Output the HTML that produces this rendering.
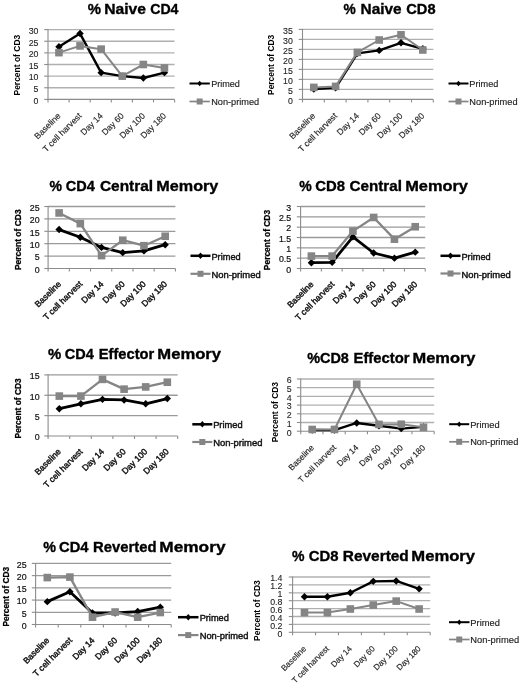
<!DOCTYPE html>
<html><head><meta charset="utf-8"><title>T cell memory subsets</title>
<style>
html,body{margin:0;padding:0;background:#fff;}
body{width:520px;height:686px;overflow:hidden;}
svg{display:block;font-family:"Liberation Sans", sans-serif;filter:blur(0.4px);}
</style></head>
<body>
<svg width="520" height="686" viewBox="0 0 520 686">
<rect width="520" height="686" fill="#fff"/>
<line x1="48.00" y1="87.77" x2="174.60" y2="87.77" stroke="#b0b0b0" stroke-width="1.3"/>
<line x1="48.00" y1="76.13" x2="174.60" y2="76.13" stroke="#b0b0b0" stroke-width="1.3"/>
<line x1="48.00" y1="64.50" x2="174.60" y2="64.50" stroke="#b0b0b0" stroke-width="1.3"/>
<line x1="48.00" y1="52.87" x2="174.60" y2="52.87" stroke="#b0b0b0" stroke-width="1.3"/>
<line x1="48.00" y1="41.23" x2="174.60" y2="41.23" stroke="#b0b0b0" stroke-width="1.3"/>
<line x1="48.00" y1="29.60" x2="174.60" y2="29.60" stroke="#b0b0b0" stroke-width="1.3"/>
<line x1="48.00" y1="29.10" x2="48.00" y2="99.90" stroke="#8c8c8c" stroke-width="1.1"/>
<line x1="47.50" y1="99.40" x2="174.60" y2="99.40" stroke="#8c8c8c" stroke-width="1.1"/>
<line x1="44.20" y1="99.40" x2="48.00" y2="99.40" stroke="#8c8c8c" stroke-width="1.1"/>
<line x1="44.20" y1="87.77" x2="48.00" y2="87.77" stroke="#8c8c8c" stroke-width="1.1"/>
<line x1="44.20" y1="76.13" x2="48.00" y2="76.13" stroke="#8c8c8c" stroke-width="1.1"/>
<line x1="44.20" y1="64.50" x2="48.00" y2="64.50" stroke="#8c8c8c" stroke-width="1.1"/>
<line x1="44.20" y1="52.87" x2="48.00" y2="52.87" stroke="#8c8c8c" stroke-width="1.1"/>
<line x1="44.20" y1="41.23" x2="48.00" y2="41.23" stroke="#8c8c8c" stroke-width="1.1"/>
<line x1="44.20" y1="29.60" x2="48.00" y2="29.60" stroke="#8c8c8c" stroke-width="1.1"/>
<line x1="48.00" y1="99.40" x2="48.00" y2="102.40" stroke="#8c8c8c" stroke-width="1.1"/>
<line x1="69.10" y1="99.40" x2="69.10" y2="102.40" stroke="#8c8c8c" stroke-width="1.1"/>
<line x1="90.20" y1="99.40" x2="90.20" y2="102.40" stroke="#8c8c8c" stroke-width="1.1"/>
<line x1="111.30" y1="99.40" x2="111.30" y2="102.40" stroke="#8c8c8c" stroke-width="1.1"/>
<line x1="132.40" y1="99.40" x2="132.40" y2="102.40" stroke="#8c8c8c" stroke-width="1.1"/>
<line x1="153.50" y1="99.40" x2="153.50" y2="102.40" stroke="#8c8c8c" stroke-width="1.1"/>
<line x1="174.60" y1="99.40" x2="174.60" y2="102.40" stroke="#8c8c8c" stroke-width="1.1"/>
<text x="38.50" y="103.70" font-size="8.8" text-anchor="end" fill="#222" stroke="#222" stroke-width="0.1">0</text>
<text x="38.50" y="92.07" font-size="8.8" text-anchor="end" fill="#222" stroke="#222" stroke-width="0.1">5</text>
<text x="38.50" y="80.43" font-size="8.8" text-anchor="end" fill="#222" stroke="#222" stroke-width="0.1">10</text>
<text x="38.50" y="68.80" font-size="8.8" text-anchor="end" fill="#222" stroke="#222" stroke-width="0.1">15</text>
<text x="38.50" y="57.17" font-size="8.8" text-anchor="end" fill="#222" stroke="#222" stroke-width="0.1">20</text>
<text x="38.50" y="45.53" font-size="8.8" text-anchor="end" fill="#222" stroke="#222" stroke-width="0.1">25</text>
<text x="38.50" y="33.90" font-size="8.8" text-anchor="end" fill="#222" stroke="#222" stroke-width="0.1">30</text>
<text transform="translate(61.15,116.40) rotate(-45)" font-size="8.6" text-anchor="end" fill="#222" stroke="#222" stroke-width="0.15">Baseline</text>
<text transform="translate(82.25,116.40) rotate(-45)" font-size="8.6" text-anchor="end" fill="#222" stroke="#222" stroke-width="0.15">T cell harvest</text>
<text transform="translate(103.35,116.40) rotate(-45)" font-size="8.6" text-anchor="end" fill="#222" stroke="#222" stroke-width="0.15">Day 14</text>
<text transform="translate(124.45,116.40) rotate(-45)" font-size="8.6" text-anchor="end" fill="#222" stroke="#222" stroke-width="0.15">Day 60</text>
<text transform="translate(145.55,116.40) rotate(-45)" font-size="8.6" text-anchor="end" fill="#222" stroke="#222" stroke-width="0.15">Day 100</text>
<text transform="translate(166.65,116.40) rotate(-45)" font-size="8.6" text-anchor="end" fill="#222" stroke="#222" stroke-width="0.15">Day 180</text>
<text x="87.65" y="14.25" font-size="15.0" font-weight="bold" textLength="13.25" lengthAdjust="spacingAndGlyphs" fill="#000" stroke="#000" stroke-width="0.35">%</text>
<text x="104.20" y="14.25" font-size="15.0" font-weight="bold" textLength="41.75" lengthAdjust="spacingAndGlyphs" fill="#000" stroke="#000" stroke-width="0.35">Naive</text>
<text x="150.20" y="14.25" font-size="15.0" font-weight="bold" textLength="28.25" lengthAdjust="spacingAndGlyphs" fill="#000" stroke="#000" stroke-width="0.35">CD4</text>
<text transform="translate(19.77,65.00) rotate(-90)" x="-30.50" font-size="9.0" font-weight="bold" textLength="60.75" lengthAdjust="spacingAndGlyphs" fill="#000">Percent of CD3</text>
<polyline points="58.95,46.82 80.05,33.56 101.15,72.64 122.25,76.13 143.35,77.99 164.45,72.64" fill="none" stroke="#000" stroke-width="2.4" stroke-linejoin="round"/>
<polygon points="58.95,43.12 62.65,46.82 58.95,50.52 55.25,46.82" fill="#000"/>
<polygon points="80.05,29.86 83.75,33.56 80.05,37.26 76.35,33.56" fill="#000"/>
<polygon points="101.15,68.94 104.85,72.64 101.15,76.34 97.45,72.64" fill="#000"/>
<polygon points="122.25,72.43 125.95,76.13 122.25,79.83 118.55,76.13" fill="#000"/>
<polygon points="143.35,74.29 147.05,77.99 143.35,81.69 139.65,77.99" fill="#000"/>
<polygon points="164.45,68.94 168.15,72.64 164.45,76.34 160.75,72.64" fill="#000"/>
<polyline points="58.95,52.63 80.05,45.89 101.15,49.14 122.25,76.13 143.35,64.50 164.45,67.99" fill="none" stroke="#858585" stroke-width="2.0" stroke-linejoin="round"/>
<rect x="55.15" y="48.83" width="7.60" height="7.60" fill="#858585"/>
<rect x="76.25" y="42.09" width="7.60" height="7.60" fill="#858585"/>
<rect x="97.35" y="45.34" width="7.60" height="7.60" fill="#858585"/>
<rect x="118.45" y="72.33" width="7.60" height="7.60" fill="#858585"/>
<rect x="139.55" y="60.70" width="7.60" height="7.60" fill="#858585"/>
<rect x="160.65" y="64.19" width="7.60" height="7.60" fill="#858585"/>
<line x1="189.50" y1="83.50" x2="209.80" y2="83.50" stroke="#000" stroke-width="2.0"/>
<polygon points="199.65,80.70 201.95,83.50 199.65,86.30 197.35,83.50" fill="#000"/>
<line x1="189.50" y1="101.50" x2="209.80" y2="101.50" stroke="#858585" stroke-width="1.7"/>
<rect x="196.65" y="98.50" width="6.00" height="6.00" fill="#858585"/>
<text x="211.15" y="87.10" font-size="9.2" textLength="28.75" lengthAdjust="spacingAndGlyphs" fill="#222" stroke="#222" stroke-width="0.15">Primed</text>
<text x="211.15" y="105.10" font-size="9.2" textLength="48.00" lengthAdjust="spacingAndGlyphs" fill="#222" stroke="#222" stroke-width="0.15">Non-primed</text>
<line x1="302.50" y1="89.40" x2="433.30" y2="89.40" stroke="#b0b0b0" stroke-width="1.3"/>
<line x1="302.50" y1="79.40" x2="433.30" y2="79.40" stroke="#b0b0b0" stroke-width="1.3"/>
<line x1="302.50" y1="69.40" x2="433.30" y2="69.40" stroke="#b0b0b0" stroke-width="1.3"/>
<line x1="302.50" y1="59.40" x2="433.30" y2="59.40" stroke="#b0b0b0" stroke-width="1.3"/>
<line x1="302.50" y1="49.40" x2="433.30" y2="49.40" stroke="#b0b0b0" stroke-width="1.3"/>
<line x1="302.50" y1="39.40" x2="433.30" y2="39.40" stroke="#b0b0b0" stroke-width="1.3"/>
<line x1="302.50" y1="29.40" x2="433.30" y2="29.40" stroke="#b0b0b0" stroke-width="1.3"/>
<line x1="302.50" y1="28.90" x2="302.50" y2="99.90" stroke="#8c8c8c" stroke-width="1.1"/>
<line x1="302.00" y1="99.40" x2="433.30" y2="99.40" stroke="#8c8c8c" stroke-width="1.1"/>
<line x1="298.70" y1="99.40" x2="302.50" y2="99.40" stroke="#8c8c8c" stroke-width="1.1"/>
<line x1="298.70" y1="89.40" x2="302.50" y2="89.40" stroke="#8c8c8c" stroke-width="1.1"/>
<line x1="298.70" y1="79.40" x2="302.50" y2="79.40" stroke="#8c8c8c" stroke-width="1.1"/>
<line x1="298.70" y1="69.40" x2="302.50" y2="69.40" stroke="#8c8c8c" stroke-width="1.1"/>
<line x1="298.70" y1="59.40" x2="302.50" y2="59.40" stroke="#8c8c8c" stroke-width="1.1"/>
<line x1="298.70" y1="49.40" x2="302.50" y2="49.40" stroke="#8c8c8c" stroke-width="1.1"/>
<line x1="298.70" y1="39.40" x2="302.50" y2="39.40" stroke="#8c8c8c" stroke-width="1.1"/>
<line x1="298.70" y1="29.40" x2="302.50" y2="29.40" stroke="#8c8c8c" stroke-width="1.1"/>
<line x1="302.50" y1="99.40" x2="302.50" y2="102.40" stroke="#8c8c8c" stroke-width="1.1"/>
<line x1="324.30" y1="99.40" x2="324.30" y2="102.40" stroke="#8c8c8c" stroke-width="1.1"/>
<line x1="346.10" y1="99.40" x2="346.10" y2="102.40" stroke="#8c8c8c" stroke-width="1.1"/>
<line x1="367.90" y1="99.40" x2="367.90" y2="102.40" stroke="#8c8c8c" stroke-width="1.1"/>
<line x1="389.70" y1="99.40" x2="389.70" y2="102.40" stroke="#8c8c8c" stroke-width="1.1"/>
<line x1="411.50" y1="99.40" x2="411.50" y2="102.40" stroke="#8c8c8c" stroke-width="1.1"/>
<line x1="433.30" y1="99.40" x2="433.30" y2="102.40" stroke="#8c8c8c" stroke-width="1.1"/>
<text x="292.90" y="103.70" font-size="8.8" text-anchor="end" fill="#222" stroke="#222" stroke-width="0.1">0</text>
<text x="292.90" y="93.70" font-size="8.8" text-anchor="end" fill="#222" stroke="#222" stroke-width="0.1">5</text>
<text x="292.90" y="83.70" font-size="8.8" text-anchor="end" fill="#222" stroke="#222" stroke-width="0.1">10</text>
<text x="292.90" y="73.70" font-size="8.8" text-anchor="end" fill="#222" stroke="#222" stroke-width="0.1">15</text>
<text x="292.90" y="63.70" font-size="8.8" text-anchor="end" fill="#222" stroke="#222" stroke-width="0.1">20</text>
<text x="292.90" y="53.70" font-size="8.8" text-anchor="end" fill="#222" stroke="#222" stroke-width="0.1">25</text>
<text x="292.90" y="43.70" font-size="8.8" text-anchor="end" fill="#222" stroke="#222" stroke-width="0.1">30</text>
<text x="292.90" y="33.70" font-size="8.8" text-anchor="end" fill="#222" stroke="#222" stroke-width="0.1">35</text>
<text transform="translate(316.00,116.40) rotate(-45)" font-size="8.6" text-anchor="end" fill="#222" stroke="#222" stroke-width="0.15">Baseline</text>
<text transform="translate(337.80,116.40) rotate(-45)" font-size="8.6" text-anchor="end" fill="#222" stroke="#222" stroke-width="0.15">T cell harvest</text>
<text transform="translate(359.60,116.40) rotate(-45)" font-size="8.6" text-anchor="end" fill="#222" stroke="#222" stroke-width="0.15">Day 14</text>
<text transform="translate(381.40,116.40) rotate(-45)" font-size="8.6" text-anchor="end" fill="#222" stroke="#222" stroke-width="0.15">Day 60</text>
<text transform="translate(403.20,116.40) rotate(-45)" font-size="8.6" text-anchor="end" fill="#222" stroke="#222" stroke-width="0.15">Day 100</text>
<text transform="translate(425.00,116.40) rotate(-45)" font-size="8.6" text-anchor="end" fill="#222" stroke="#222" stroke-width="0.15">Day 180</text>
<text x="343.55" y="14.15" font-size="15.0" font-weight="bold" textLength="12.25" lengthAdjust="spacingAndGlyphs" fill="#000" stroke="#000" stroke-width="0.35">%</text>
<text x="360.60" y="14.15" font-size="15.0" font-weight="bold" textLength="41.00" lengthAdjust="spacingAndGlyphs" fill="#000" stroke="#000" stroke-width="0.35">Naive</text>
<text x="406.30" y="14.15" font-size="15.0" font-weight="bold" textLength="29.25" lengthAdjust="spacingAndGlyphs" fill="#000" stroke="#000" stroke-width="0.35">CD8</text>
<text transform="translate(273.97,64.70) rotate(-90)" x="-30.25" font-size="9.0" font-weight="bold" textLength="60.25" lengthAdjust="spacingAndGlyphs" fill="#000">Percent of CD3</text>
<polyline points="313.80,89.00 335.60,87.80 357.40,53.40 379.20,50.40 401.00,42.80 422.80,48.80" fill="none" stroke="#000" stroke-width="2.4" stroke-linejoin="round"/>
<polygon points="313.80,85.30 317.50,89.00 313.80,92.70 310.10,89.00" fill="#000"/>
<polygon points="335.60,84.10 339.30,87.80 335.60,91.50 331.90,87.80" fill="#000"/>
<polygon points="357.40,49.70 361.10,53.40 357.40,57.10 353.70,53.40" fill="#000"/>
<polygon points="379.20,46.70 382.90,50.40 379.20,54.10 375.50,50.40" fill="#000"/>
<polygon points="401.00,39.10 404.70,42.80 401.00,46.50 397.30,42.80" fill="#000"/>
<polygon points="422.80,45.10 426.50,48.80 422.80,52.50 419.10,48.80" fill="#000"/>
<polyline points="313.80,87.40 335.60,86.40 357.40,52.40 379.20,40.00 401.00,34.80 422.80,50.00" fill="none" stroke="#858585" stroke-width="2.0" stroke-linejoin="round"/>
<rect x="310.00" y="83.60" width="7.60" height="7.60" fill="#858585"/>
<rect x="331.80" y="82.60" width="7.60" height="7.60" fill="#858585"/>
<rect x="353.60" y="48.60" width="7.60" height="7.60" fill="#858585"/>
<rect x="375.40" y="36.20" width="7.60" height="7.60" fill="#858585"/>
<rect x="397.20" y="31.00" width="7.60" height="7.60" fill="#858585"/>
<rect x="419.00" y="46.20" width="7.60" height="7.60" fill="#858585"/>
<line x1="448.50" y1="83.50" x2="468.50" y2="83.50" stroke="#000" stroke-width="2.0"/>
<polygon points="458.50,80.70 460.80,83.50 458.50,86.30 456.20,83.50" fill="#000"/>
<line x1="448.50" y1="101.50" x2="468.50" y2="101.50" stroke="#858585" stroke-width="1.7"/>
<rect x="455.50" y="98.50" width="6.00" height="6.00" fill="#858585"/>
<text x="469.35" y="87.10" font-size="9.2" textLength="29.00" lengthAdjust="spacingAndGlyphs" fill="#222" stroke="#222" stroke-width="0.15">Primed</text>
<text x="469.35" y="105.10" font-size="9.2" textLength="48.25" lengthAdjust="spacingAndGlyphs" fill="#222" stroke="#222" stroke-width="0.15">Non-primed</text>
<line x1="48.10" y1="256.10" x2="175.40" y2="256.10" stroke="#9a9a9a" stroke-width="1.3"/>
<line x1="48.10" y1="243.70" x2="175.40" y2="243.70" stroke="#9a9a9a" stroke-width="1.3"/>
<line x1="48.10" y1="231.30" x2="175.40" y2="231.30" stroke="#9a9a9a" stroke-width="1.3"/>
<line x1="48.10" y1="218.90" x2="175.40" y2="218.90" stroke="#9a9a9a" stroke-width="1.3"/>
<line x1="48.10" y1="206.50" x2="175.40" y2="206.50" stroke="#9a9a9a" stroke-width="1.3"/>
<line x1="48.10" y1="206.00" x2="48.10" y2="269.00" stroke="#8c8c8c" stroke-width="1.1"/>
<line x1="47.60" y1="268.50" x2="175.40" y2="268.50" stroke="#8c8c8c" stroke-width="1.1"/>
<line x1="44.30" y1="268.50" x2="48.10" y2="268.50" stroke="#8c8c8c" stroke-width="1.1"/>
<line x1="44.30" y1="256.10" x2="48.10" y2="256.10" stroke="#8c8c8c" stroke-width="1.1"/>
<line x1="44.30" y1="243.70" x2="48.10" y2="243.70" stroke="#8c8c8c" stroke-width="1.1"/>
<line x1="44.30" y1="231.30" x2="48.10" y2="231.30" stroke="#8c8c8c" stroke-width="1.1"/>
<line x1="44.30" y1="218.90" x2="48.10" y2="218.90" stroke="#8c8c8c" stroke-width="1.1"/>
<line x1="44.30" y1="206.50" x2="48.10" y2="206.50" stroke="#8c8c8c" stroke-width="1.1"/>
<line x1="48.10" y1="268.50" x2="48.10" y2="271.50" stroke="#8c8c8c" stroke-width="1.1"/>
<line x1="69.32" y1="268.50" x2="69.32" y2="271.50" stroke="#8c8c8c" stroke-width="1.1"/>
<line x1="90.53" y1="268.50" x2="90.53" y2="271.50" stroke="#8c8c8c" stroke-width="1.1"/>
<line x1="111.75" y1="268.50" x2="111.75" y2="271.50" stroke="#8c8c8c" stroke-width="1.1"/>
<line x1="132.97" y1="268.50" x2="132.97" y2="271.50" stroke="#8c8c8c" stroke-width="1.1"/>
<line x1="154.18" y1="268.50" x2="154.18" y2="271.50" stroke="#8c8c8c" stroke-width="1.1"/>
<line x1="175.40" y1="268.50" x2="175.40" y2="271.50" stroke="#8c8c8c" stroke-width="1.1"/>
<text x="39.60" y="272.80" font-size="8.8" text-anchor="end" fill="#111" stroke="#111" stroke-width="0.2">0</text>
<text x="39.60" y="260.40" font-size="8.8" text-anchor="end" fill="#111" stroke="#111" stroke-width="0.2">5</text>
<text x="39.60" y="248.00" font-size="8.8" text-anchor="end" fill="#111" stroke="#111" stroke-width="0.2">10</text>
<text x="39.60" y="235.60" font-size="8.8" text-anchor="end" fill="#111" stroke="#111" stroke-width="0.2">15</text>
<text x="39.60" y="223.20" font-size="8.8" text-anchor="end" fill="#111" stroke="#111" stroke-width="0.2">20</text>
<text x="39.60" y="210.80" font-size="8.8" text-anchor="end" fill="#111" stroke="#111" stroke-width="0.2">25</text>
<text transform="translate(61.61,284.50) rotate(-45)" font-size="8.6" text-anchor="end" fill="#111" stroke="#111" stroke-width="0.42">Baseline</text>
<text transform="translate(82.83,284.50) rotate(-45)" font-size="8.6" text-anchor="end" fill="#111" stroke="#111" stroke-width="0.42">T cell harvest</text>
<text transform="translate(104.04,284.50) rotate(-45)" font-size="8.6" text-anchor="end" fill="#111" stroke="#111" stroke-width="0.42">Day 14</text>
<text transform="translate(125.26,284.50) rotate(-45)" font-size="8.6" text-anchor="end" fill="#111" stroke="#111" stroke-width="0.42">Day 60</text>
<text transform="translate(146.48,284.50) rotate(-45)" font-size="8.6" text-anchor="end" fill="#111" stroke="#111" stroke-width="0.42">Day 100</text>
<text transform="translate(167.69,284.50) rotate(-45)" font-size="8.6" text-anchor="end" fill="#111" stroke="#111" stroke-width="0.42">Day 180</text>
<text x="49.55" y="190.95" font-size="15.0" font-weight="bold" textLength="12.50" lengthAdjust="spacingAndGlyphs" fill="#000" stroke="#000" stroke-width="0.35">%</text>
<text x="65.80" y="190.95" font-size="15.0" font-weight="bold" textLength="29.00" lengthAdjust="spacingAndGlyphs" fill="#000" stroke="#000" stroke-width="0.35">CD4</text>
<text x="99.90" y="190.95" font-size="15.0" font-weight="bold" textLength="53.25" lengthAdjust="spacingAndGlyphs" fill="#000" stroke="#000" stroke-width="0.35">Central</text>
<text x="156.30" y="190.95" font-size="15.0" font-weight="bold" textLength="62.00" lengthAdjust="spacingAndGlyphs" fill="#000" stroke="#000" stroke-width="0.35">Memory</text>
<text transform="translate(20.92,239.60) rotate(-90)" x="-30.50" font-size="9.4" font-weight="bold" textLength="60.75" lengthAdjust="spacingAndGlyphs" fill="#000" stroke="#000" stroke-width="0.25">Percent of CD3</text>
<polyline points="59.11,229.56 80.33,237.25 101.54,247.42 122.76,252.63 143.98,250.89 165.19,244.69" fill="none" stroke="#000" stroke-width="2.8" stroke-linejoin="round"/>
<polygon points="59.11,225.86 62.81,229.56 59.11,233.26 55.41,229.56" fill="#000"/>
<polygon points="80.33,233.55 84.03,237.25 80.33,240.95 76.63,237.25" fill="#000"/>
<polygon points="101.54,243.72 105.24,247.42 101.54,251.12 97.84,247.42" fill="#000"/>
<polygon points="122.76,248.93 126.46,252.63 122.76,256.33 119.06,252.63" fill="#000"/>
<polygon points="143.98,247.19 147.68,250.89 143.98,254.59 140.28,250.89" fill="#000"/>
<polygon points="165.19,240.99 168.89,244.69 165.19,248.39 161.49,244.69" fill="#000"/>
<polyline points="59.11,212.95 80.33,223.61 101.54,255.60 122.76,240.23 143.98,245.68 165.19,236.26" fill="none" stroke="#858585" stroke-width="2.3" stroke-linejoin="round"/>
<rect x="55.31" y="209.15" width="7.60" height="7.60" fill="#858585"/>
<rect x="76.53" y="219.81" width="7.60" height="7.60" fill="#858585"/>
<rect x="97.74" y="251.80" width="7.60" height="7.60" fill="#858585"/>
<rect x="118.96" y="236.43" width="7.60" height="7.60" fill="#858585"/>
<rect x="140.18" y="241.88" width="7.60" height="7.60" fill="#858585"/>
<rect x="161.39" y="232.46" width="7.60" height="7.60" fill="#858585"/>
<line x1="190.50" y1="255.80" x2="210.50" y2="255.80" stroke="#000" stroke-width="2.5"/>
<polygon points="200.50,252.60 203.30,255.80 200.50,259.00 197.70,255.80" fill="#000"/>
<line x1="190.50" y1="273.80" x2="210.50" y2="273.80" stroke="#858585" stroke-width="2.2"/>
<rect x="197.50" y="270.80" width="6.00" height="6.00" fill="#858585"/>
<text x="211.45" y="260.00" font-size="9.2" textLength="29.25" lengthAdjust="spacingAndGlyphs" fill="#111" stroke="#111" stroke-width="0.42">Primed</text>
<text x="211.45" y="278.00" font-size="9.2" textLength="49.25" lengthAdjust="spacingAndGlyphs" fill="#111" stroke="#111" stroke-width="0.42">Non-primed</text>
<line x1="300.60" y1="258.17" x2="425.20" y2="258.17" stroke="#9a9a9a" stroke-width="1.3"/>
<line x1="300.60" y1="247.83" x2="425.20" y2="247.83" stroke="#9a9a9a" stroke-width="1.3"/>
<line x1="300.60" y1="237.50" x2="425.20" y2="237.50" stroke="#9a9a9a" stroke-width="1.3"/>
<line x1="300.60" y1="227.17" x2="425.20" y2="227.17" stroke="#9a9a9a" stroke-width="1.3"/>
<line x1="300.60" y1="216.83" x2="425.20" y2="216.83" stroke="#9a9a9a" stroke-width="1.3"/>
<line x1="300.60" y1="206.50" x2="425.20" y2="206.50" stroke="#9a9a9a" stroke-width="1.3"/>
<line x1="300.60" y1="206.00" x2="300.60" y2="269.00" stroke="#8c8c8c" stroke-width="1.1"/>
<line x1="300.10" y1="268.50" x2="425.20" y2="268.50" stroke="#8c8c8c" stroke-width="1.1"/>
<line x1="296.80" y1="268.50" x2="300.60" y2="268.50" stroke="#8c8c8c" stroke-width="1.1"/>
<line x1="296.80" y1="258.17" x2="300.60" y2="258.17" stroke="#8c8c8c" stroke-width="1.1"/>
<line x1="296.80" y1="247.83" x2="300.60" y2="247.83" stroke="#8c8c8c" stroke-width="1.1"/>
<line x1="296.80" y1="237.50" x2="300.60" y2="237.50" stroke="#8c8c8c" stroke-width="1.1"/>
<line x1="296.80" y1="227.17" x2="300.60" y2="227.17" stroke="#8c8c8c" stroke-width="1.1"/>
<line x1="296.80" y1="216.83" x2="300.60" y2="216.83" stroke="#8c8c8c" stroke-width="1.1"/>
<line x1="296.80" y1="206.50" x2="300.60" y2="206.50" stroke="#8c8c8c" stroke-width="1.1"/>
<line x1="300.60" y1="268.50" x2="300.60" y2="271.50" stroke="#8c8c8c" stroke-width="1.1"/>
<line x1="321.37" y1="268.50" x2="321.37" y2="271.50" stroke="#8c8c8c" stroke-width="1.1"/>
<line x1="342.13" y1="268.50" x2="342.13" y2="271.50" stroke="#8c8c8c" stroke-width="1.1"/>
<line x1="362.90" y1="268.50" x2="362.90" y2="271.50" stroke="#8c8c8c" stroke-width="1.1"/>
<line x1="383.67" y1="268.50" x2="383.67" y2="271.50" stroke="#8c8c8c" stroke-width="1.1"/>
<line x1="404.43" y1="268.50" x2="404.43" y2="271.50" stroke="#8c8c8c" stroke-width="1.1"/>
<line x1="425.20" y1="268.50" x2="425.20" y2="271.50" stroke="#8c8c8c" stroke-width="1.1"/>
<text x="291.20" y="272.80" font-size="8.8" text-anchor="end" fill="#111" stroke="#111" stroke-width="0.2">0</text>
<text x="291.20" y="262.47" font-size="8.8" text-anchor="end" fill="#111" stroke="#111" stroke-width="0.2">0.5</text>
<text x="291.20" y="252.13" font-size="8.8" text-anchor="end" fill="#111" stroke="#111" stroke-width="0.2">1</text>
<text x="291.20" y="241.80" font-size="8.8" text-anchor="end" fill="#111" stroke="#111" stroke-width="0.2">1.5</text>
<text x="291.20" y="231.47" font-size="8.8" text-anchor="end" fill="#111" stroke="#111" stroke-width="0.2">2</text>
<text x="291.20" y="221.13" font-size="8.8" text-anchor="end" fill="#111" stroke="#111" stroke-width="0.2">2.5</text>
<text x="291.20" y="210.80" font-size="8.8" text-anchor="end" fill="#111" stroke="#111" stroke-width="0.2">3</text>
<text transform="translate(314.08,284.90) rotate(-45)" font-size="8.6" text-anchor="end" fill="#111" stroke="#111" stroke-width="0.42">Baseline</text>
<text transform="translate(334.85,284.90) rotate(-45)" font-size="8.6" text-anchor="end" fill="#111" stroke="#111" stroke-width="0.42">T cell harvest</text>
<text transform="translate(355.62,284.90) rotate(-45)" font-size="8.6" text-anchor="end" fill="#111" stroke="#111" stroke-width="0.42">Day 14</text>
<text transform="translate(376.38,284.90) rotate(-45)" font-size="8.6" text-anchor="end" fill="#111" stroke="#111" stroke-width="0.42">Day 60</text>
<text transform="translate(397.15,284.90) rotate(-45)" font-size="8.6" text-anchor="end" fill="#111" stroke="#111" stroke-width="0.42">Day 100</text>
<text transform="translate(417.92,284.90) rotate(-45)" font-size="8.6" text-anchor="end" fill="#111" stroke="#111" stroke-width="0.42">Day 180</text>
<text x="299.15" y="190.75" font-size="15.0" font-weight="bold" textLength="12.50" lengthAdjust="spacingAndGlyphs" fill="#000" stroke="#000" stroke-width="0.35">%</text>
<text x="315.30" y="190.75" font-size="15.0" font-weight="bold" textLength="29.75" lengthAdjust="spacingAndGlyphs" fill="#000" stroke="#000" stroke-width="0.35">CD8</text>
<text x="349.50" y="190.75" font-size="15.0" font-weight="bold" textLength="52.50" lengthAdjust="spacingAndGlyphs" fill="#000" stroke="#000" stroke-width="0.35">Central</text>
<text x="405.20" y="190.75" font-size="15.0" font-weight="bold" textLength="62.75" lengthAdjust="spacingAndGlyphs" fill="#000" stroke="#000" stroke-width="0.35">Memory</text>
<text transform="translate(270.02,239.90) rotate(-90)" x="-30.25" font-size="9.4" font-weight="bold" textLength="60.25" lengthAdjust="spacingAndGlyphs" fill="#000" stroke="#000" stroke-width="0.25">Percent of CD3</text>
<polyline points="311.38,262.71 332.15,262.30 352.92,236.88 373.68,253.00 394.45,258.17 415.22,252.17" fill="none" stroke="#000" stroke-width="2.8" stroke-linejoin="round"/>
<polygon points="311.38,259.01 315.08,262.71 311.38,266.41 307.68,262.71" fill="#000"/>
<polygon points="332.15,258.60 335.85,262.30 332.15,266.00 328.45,262.30" fill="#000"/>
<polygon points="352.92,233.18 356.62,236.88 352.92,240.58 349.22,236.88" fill="#000"/>
<polygon points="373.68,249.30 377.38,253.00 373.68,256.70 369.98,253.00" fill="#000"/>
<polygon points="394.45,254.47 398.15,258.17 394.45,261.87 390.75,258.17" fill="#000"/>
<polygon points="415.22,248.47 418.92,252.17 415.22,255.87 411.52,252.17" fill="#000"/>
<polyline points="311.38,256.10 332.15,256.10 352.92,231.09 373.68,217.45 394.45,239.15 415.22,226.75" fill="none" stroke="#858585" stroke-width="2.3" stroke-linejoin="round"/>
<rect x="307.58" y="252.30" width="7.60" height="7.60" fill="#858585"/>
<rect x="328.35" y="252.30" width="7.60" height="7.60" fill="#858585"/>
<rect x="349.12" y="227.29" width="7.60" height="7.60" fill="#858585"/>
<rect x="369.88" y="213.65" width="7.60" height="7.60" fill="#858585"/>
<rect x="390.65" y="235.35" width="7.60" height="7.60" fill="#858585"/>
<rect x="411.42" y="222.95" width="7.60" height="7.60" fill="#858585"/>
<line x1="440.50" y1="255.80" x2="460.50" y2="255.80" stroke="#000" stroke-width="2.5"/>
<polygon points="450.50,252.60 453.30,255.80 450.50,259.00 447.70,255.80" fill="#000"/>
<line x1="440.50" y1="273.50" x2="460.50" y2="273.50" stroke="#858585" stroke-width="2.2"/>
<rect x="447.50" y="270.50" width="6.00" height="6.00" fill="#858585"/>
<text x="461.45" y="260.00" font-size="9.2" textLength="29.25" lengthAdjust="spacingAndGlyphs" fill="#111" stroke="#111" stroke-width="0.42">Primed</text>
<text x="461.45" y="277.70" font-size="9.2" textLength="49.25" lengthAdjust="spacingAndGlyphs" fill="#111" stroke="#111" stroke-width="0.42">Non-primed</text>
<line x1="48.10" y1="415.63" x2="177.70" y2="415.63" stroke="#9a9a9a" stroke-width="1.3"/>
<line x1="48.10" y1="395.27" x2="177.70" y2="395.27" stroke="#9a9a9a" stroke-width="1.3"/>
<line x1="48.10" y1="374.90" x2="177.70" y2="374.90" stroke="#9a9a9a" stroke-width="1.3"/>
<line x1="48.10" y1="374.40" x2="48.10" y2="436.50" stroke="#8c8c8c" stroke-width="1.1"/>
<line x1="47.60" y1="436.00" x2="177.70" y2="436.00" stroke="#8c8c8c" stroke-width="1.1"/>
<line x1="44.30" y1="436.00" x2="48.10" y2="436.00" stroke="#8c8c8c" stroke-width="1.1"/>
<line x1="44.30" y1="415.63" x2="48.10" y2="415.63" stroke="#8c8c8c" stroke-width="1.1"/>
<line x1="44.30" y1="395.27" x2="48.10" y2="395.27" stroke="#8c8c8c" stroke-width="1.1"/>
<line x1="44.30" y1="374.90" x2="48.10" y2="374.90" stroke="#8c8c8c" stroke-width="1.1"/>
<line x1="48.10" y1="436.00" x2="48.10" y2="439.00" stroke="#8c8c8c" stroke-width="1.1"/>
<line x1="69.70" y1="436.00" x2="69.70" y2="439.00" stroke="#8c8c8c" stroke-width="1.1"/>
<line x1="91.30" y1="436.00" x2="91.30" y2="439.00" stroke="#8c8c8c" stroke-width="1.1"/>
<line x1="112.90" y1="436.00" x2="112.90" y2="439.00" stroke="#8c8c8c" stroke-width="1.1"/>
<line x1="134.50" y1="436.00" x2="134.50" y2="439.00" stroke="#8c8c8c" stroke-width="1.1"/>
<line x1="156.10" y1="436.00" x2="156.10" y2="439.00" stroke="#8c8c8c" stroke-width="1.1"/>
<line x1="177.70" y1="436.00" x2="177.70" y2="439.00" stroke="#8c8c8c" stroke-width="1.1"/>
<text x="39.60" y="440.30" font-size="8.8" text-anchor="end" fill="#111" stroke="#111" stroke-width="0.2">0</text>
<text x="39.60" y="419.93" font-size="8.8" text-anchor="end" fill="#111" stroke="#111" stroke-width="0.2">5</text>
<text x="39.60" y="399.57" font-size="8.8" text-anchor="end" fill="#111" stroke="#111" stroke-width="0.2">10</text>
<text x="39.60" y="379.20" font-size="8.8" text-anchor="end" fill="#111" stroke="#111" stroke-width="0.2">15</text>
<text transform="translate(61.50,452.20) rotate(-45)" font-size="8.6" text-anchor="end" fill="#111" stroke="#111" stroke-width="0.42">Baseline</text>
<text transform="translate(83.10,452.20) rotate(-45)" font-size="8.6" text-anchor="end" fill="#111" stroke="#111" stroke-width="0.42">T cell harvest</text>
<text transform="translate(104.70,452.20) rotate(-45)" font-size="8.6" text-anchor="end" fill="#111" stroke="#111" stroke-width="0.42">Day 14</text>
<text transform="translate(126.30,452.20) rotate(-45)" font-size="8.6" text-anchor="end" fill="#111" stroke="#111" stroke-width="0.42">Day 60</text>
<text transform="translate(147.90,452.20) rotate(-45)" font-size="8.6" text-anchor="end" fill="#111" stroke="#111" stroke-width="0.42">Day 100</text>
<text transform="translate(169.50,452.20) rotate(-45)" font-size="8.6" text-anchor="end" fill="#111" stroke="#111" stroke-width="0.42">Day 180</text>
<text x="48.05" y="359.45" font-size="15.0" font-weight="bold" textLength="13.25" lengthAdjust="spacingAndGlyphs" fill="#000" stroke="#000" stroke-width="0.35">%</text>
<text x="64.80" y="359.45" font-size="15.0" font-weight="bold" textLength="29.00" lengthAdjust="spacingAndGlyphs" fill="#000" stroke="#000" stroke-width="0.35">CD4</text>
<text x="98.80" y="359.45" font-size="15.0" font-weight="bold" textLength="55.50" lengthAdjust="spacingAndGlyphs" fill="#000" stroke="#000" stroke-width="0.35">Effector</text>
<text x="157.30" y="359.45" font-size="15.0" font-weight="bold" textLength="63.75" lengthAdjust="spacingAndGlyphs" fill="#000" stroke="#000" stroke-width="0.35">Memory</text>
<text transform="translate(20.92,408.20) rotate(-90)" x="-30.25" font-size="9.4" font-weight="bold" textLength="60.25" lengthAdjust="spacingAndGlyphs" fill="#000" stroke="#000" stroke-width="0.25">Percent of CD3</text>
<polyline points="59.30,408.71 80.90,403.82 102.50,399.34 124.10,399.95 145.70,403.82 167.30,398.53" fill="none" stroke="#000" stroke-width="2.8" stroke-linejoin="round"/>
<polygon points="59.30,405.01 63.00,408.71 59.30,412.41 55.60,408.71" fill="#000"/>
<polygon points="80.90,400.12 84.60,403.82 80.90,407.52 77.20,403.82" fill="#000"/>
<polygon points="102.50,395.64 106.20,399.34 102.50,403.04 98.80,399.34" fill="#000"/>
<polygon points="124.10,396.25 127.80,399.95 124.10,403.65 120.40,399.95" fill="#000"/>
<polygon points="145.70,400.12 149.40,403.82 145.70,407.52 142.00,403.82" fill="#000"/>
<polygon points="167.30,394.83 171.00,398.53 167.30,402.23 163.60,398.53" fill="#000"/>
<polyline points="59.30,396.08 80.90,396.08 102.50,379.38 124.10,389.16 145.70,386.92 167.30,382.23" fill="none" stroke="#858585" stroke-width="2.3" stroke-linejoin="round"/>
<rect x="55.50" y="392.28" width="7.60" height="7.60" fill="#858585"/>
<rect x="77.10" y="392.28" width="7.60" height="7.60" fill="#858585"/>
<rect x="98.70" y="375.58" width="7.60" height="7.60" fill="#858585"/>
<rect x="120.30" y="385.36" width="7.60" height="7.60" fill="#858585"/>
<rect x="141.90" y="383.12" width="7.60" height="7.60" fill="#858585"/>
<rect x="163.50" y="378.43" width="7.60" height="7.60" fill="#858585"/>
<line x1="192.30" y1="424.30" x2="212.30" y2="424.30" stroke="#000" stroke-width="2.5"/>
<polygon points="202.30,421.10 205.10,424.30 202.30,427.50 199.50,424.30" fill="#000"/>
<line x1="192.30" y1="442.00" x2="212.30" y2="442.00" stroke="#858585" stroke-width="2.2"/>
<rect x="199.30" y="439.00" width="6.00" height="6.00" fill="#858585"/>
<text x="213.15" y="427.90" font-size="9.2" textLength="29.50" lengthAdjust="spacingAndGlyphs" fill="#111" stroke="#111" stroke-width="0.42">Primed</text>
<text x="213.15" y="445.60" font-size="9.2" textLength="49.25" lengthAdjust="spacingAndGlyphs" fill="#111" stroke="#111" stroke-width="0.42">Non-primed</text>
<line x1="300.70" y1="422.50" x2="434.20" y2="422.50" stroke="#b0b0b0" stroke-width="1.3"/>
<line x1="300.70" y1="413.80" x2="434.20" y2="413.80" stroke="#b0b0b0" stroke-width="1.3"/>
<line x1="300.70" y1="405.10" x2="434.20" y2="405.10" stroke="#b0b0b0" stroke-width="1.3"/>
<line x1="300.70" y1="396.40" x2="434.20" y2="396.40" stroke="#b0b0b0" stroke-width="1.3"/>
<line x1="300.70" y1="387.70" x2="434.20" y2="387.70" stroke="#b0b0b0" stroke-width="1.3"/>
<line x1="300.70" y1="379.00" x2="434.20" y2="379.00" stroke="#b0b0b0" stroke-width="1.3"/>
<line x1="300.70" y1="378.50" x2="300.70" y2="431.70" stroke="#8c8c8c" stroke-width="1.1"/>
<line x1="300.20" y1="431.20" x2="434.20" y2="431.20" stroke="#8c8c8c" stroke-width="1.1"/>
<line x1="296.90" y1="431.20" x2="300.70" y2="431.20" stroke="#8c8c8c" stroke-width="1.1"/>
<line x1="296.90" y1="422.50" x2="300.70" y2="422.50" stroke="#8c8c8c" stroke-width="1.1"/>
<line x1="296.90" y1="413.80" x2="300.70" y2="413.80" stroke="#8c8c8c" stroke-width="1.1"/>
<line x1="296.90" y1="405.10" x2="300.70" y2="405.10" stroke="#8c8c8c" stroke-width="1.1"/>
<line x1="296.90" y1="396.40" x2="300.70" y2="396.40" stroke="#8c8c8c" stroke-width="1.1"/>
<line x1="296.90" y1="387.70" x2="300.70" y2="387.70" stroke="#8c8c8c" stroke-width="1.1"/>
<line x1="296.90" y1="379.00" x2="300.70" y2="379.00" stroke="#8c8c8c" stroke-width="1.1"/>
<line x1="300.70" y1="431.20" x2="300.70" y2="434.20" stroke="#8c8c8c" stroke-width="1.1"/>
<line x1="322.95" y1="431.20" x2="322.95" y2="434.20" stroke="#8c8c8c" stroke-width="1.1"/>
<line x1="345.20" y1="431.20" x2="345.20" y2="434.20" stroke="#8c8c8c" stroke-width="1.1"/>
<line x1="367.45" y1="431.20" x2="367.45" y2="434.20" stroke="#8c8c8c" stroke-width="1.1"/>
<line x1="389.70" y1="431.20" x2="389.70" y2="434.20" stroke="#8c8c8c" stroke-width="1.1"/>
<line x1="411.95" y1="431.20" x2="411.95" y2="434.20" stroke="#8c8c8c" stroke-width="1.1"/>
<line x1="434.20" y1="431.20" x2="434.20" y2="434.20" stroke="#8c8c8c" stroke-width="1.1"/>
<text x="291.70" y="435.50" font-size="8.8" text-anchor="end" fill="#222" stroke="#222" stroke-width="0.1">0</text>
<text x="291.70" y="426.80" font-size="8.8" text-anchor="end" fill="#222" stroke="#222" stroke-width="0.1">1</text>
<text x="291.70" y="418.10" font-size="8.8" text-anchor="end" fill="#222" stroke="#222" stroke-width="0.1">2</text>
<text x="291.70" y="409.40" font-size="8.8" text-anchor="end" fill="#222" stroke="#222" stroke-width="0.1">3</text>
<text x="291.70" y="400.70" font-size="8.8" text-anchor="end" fill="#222" stroke="#222" stroke-width="0.1">4</text>
<text x="291.70" y="392.00" font-size="8.8" text-anchor="end" fill="#222" stroke="#222" stroke-width="0.1">5</text>
<text x="291.70" y="383.30" font-size="8.8" text-anchor="end" fill="#222" stroke="#222" stroke-width="0.1">6</text>
<text transform="translate(314.43,448.20) rotate(-45)" font-size="8.4" text-anchor="end" fill="#222" stroke="#222" stroke-width="0.15">Baseline</text>
<text transform="translate(336.68,448.20) rotate(-45)" font-size="8.4" text-anchor="end" fill="#222" stroke="#222" stroke-width="0.15">T cell harvest</text>
<text transform="translate(358.93,448.20) rotate(-45)" font-size="8.4" text-anchor="end" fill="#222" stroke="#222" stroke-width="0.15">Day 14</text>
<text transform="translate(381.18,448.20) rotate(-45)" font-size="8.4" text-anchor="end" fill="#222" stroke="#222" stroke-width="0.15">Day 60</text>
<text transform="translate(403.43,448.20) rotate(-45)" font-size="8.4" text-anchor="end" fill="#222" stroke="#222" stroke-width="0.15">Day 100</text>
<text transform="translate(425.68,448.20) rotate(-45)" font-size="8.4" text-anchor="end" fill="#222" stroke="#222" stroke-width="0.15">Day 180</text>
<text x="307.15" y="363.45" font-size="15.0" font-weight="bold" textLength="41.75" lengthAdjust="spacingAndGlyphs" fill="#000" stroke="#000" stroke-width="0.35">%CD8</text>
<text x="353.50" y="363.45" font-size="15.0" font-weight="bold" textLength="56.00" lengthAdjust="spacingAndGlyphs" fill="#000" stroke="#000" stroke-width="0.35">Effector</text>
<text x="412.50" y="363.45" font-size="15.0" font-weight="bold" textLength="63.00" lengthAdjust="spacingAndGlyphs" fill="#000" stroke="#000" stroke-width="0.35">Memory</text>
<text transform="translate(277.77,412.00) rotate(-90)" x="-30.25" font-size="9.0" font-weight="bold" textLength="60.25" lengthAdjust="spacingAndGlyphs" fill="#000">Percent of CD3</text>
<polyline points="312.22,430.07 334.47,430.16 356.72,422.94 378.97,425.81 401.22,428.59 423.47,426.85" fill="none" stroke="#000" stroke-width="2.4" stroke-linejoin="round"/>
<polygon points="312.22,426.37 315.92,430.07 312.22,433.77 308.52,430.07" fill="#000"/>
<polygon points="334.47,426.46 338.17,430.16 334.47,433.86 330.77,430.16" fill="#000"/>
<polygon points="356.72,419.24 360.42,422.94 356.72,426.63 353.02,422.94" fill="#000"/>
<polygon points="378.97,422.11 382.67,425.81 378.97,429.51 375.27,425.81" fill="#000"/>
<polygon points="401.22,424.89 404.92,428.59 401.22,432.29 397.52,428.59" fill="#000"/>
<polygon points="423.47,423.15 427.17,426.85 423.47,430.55 419.77,426.85" fill="#000"/>
<polyline points="312.22,429.46 334.47,429.46 356.72,384.22 378.97,424.41 401.22,424.24 423.47,427.28" fill="none" stroke="#858585" stroke-width="2.0" stroke-linejoin="round"/>
<rect x="308.42" y="425.66" width="7.60" height="7.60" fill="#858585"/>
<rect x="330.67" y="425.66" width="7.60" height="7.60" fill="#858585"/>
<rect x="352.92" y="380.42" width="7.60" height="7.60" fill="#858585"/>
<rect x="375.17" y="420.61" width="7.60" height="7.60" fill="#858585"/>
<rect x="397.42" y="420.44" width="7.60" height="7.60" fill="#858585"/>
<rect x="419.67" y="423.48" width="7.60" height="7.60" fill="#858585"/>
<line x1="449.20" y1="424.20" x2="469.20" y2="424.20" stroke="#000" stroke-width="2.0"/>
<polygon points="459.20,421.40 461.50,424.20 459.20,427.00 456.90,424.20" fill="#000"/>
<line x1="449.20" y1="441.80" x2="469.20" y2="441.80" stroke="#858585" stroke-width="1.7"/>
<rect x="456.20" y="438.80" width="6.00" height="6.00" fill="#858585"/>
<text x="470.15" y="427.60" font-size="9.2" textLength="29.50" lengthAdjust="spacingAndGlyphs" fill="#222" stroke="#222" stroke-width="0.15">Primed</text>
<text x="470.15" y="445.20" font-size="9.2" textLength="48.25" lengthAdjust="spacingAndGlyphs" fill="#222" stroke="#222" stroke-width="0.15">Non-primed</text>
<line x1="35.60" y1="612.28" x2="171.20" y2="612.28" stroke="#9a9a9a" stroke-width="1.3"/>
<line x1="35.60" y1="600.06" x2="171.20" y2="600.06" stroke="#9a9a9a" stroke-width="1.3"/>
<line x1="35.60" y1="587.84" x2="171.20" y2="587.84" stroke="#9a9a9a" stroke-width="1.3"/>
<line x1="35.60" y1="575.62" x2="171.20" y2="575.62" stroke="#9a9a9a" stroke-width="1.3"/>
<line x1="35.60" y1="563.40" x2="171.20" y2="563.40" stroke="#9a9a9a" stroke-width="1.3"/>
<line x1="35.60" y1="562.90" x2="35.60" y2="625.00" stroke="#8c8c8c" stroke-width="1.1"/>
<line x1="35.10" y1="624.50" x2="171.20" y2="624.50" stroke="#8c8c8c" stroke-width="1.1"/>
<line x1="31.80" y1="624.50" x2="35.60" y2="624.50" stroke="#8c8c8c" stroke-width="1.1"/>
<line x1="31.80" y1="612.28" x2="35.60" y2="612.28" stroke="#8c8c8c" stroke-width="1.1"/>
<line x1="31.80" y1="600.06" x2="35.60" y2="600.06" stroke="#8c8c8c" stroke-width="1.1"/>
<line x1="31.80" y1="587.84" x2="35.60" y2="587.84" stroke="#8c8c8c" stroke-width="1.1"/>
<line x1="31.80" y1="575.62" x2="35.60" y2="575.62" stroke="#8c8c8c" stroke-width="1.1"/>
<line x1="31.80" y1="563.40" x2="35.60" y2="563.40" stroke="#8c8c8c" stroke-width="1.1"/>
<line x1="35.60" y1="624.50" x2="35.60" y2="627.50" stroke="#8c8c8c" stroke-width="1.1"/>
<line x1="58.20" y1="624.50" x2="58.20" y2="627.50" stroke="#8c8c8c" stroke-width="1.1"/>
<line x1="80.80" y1="624.50" x2="80.80" y2="627.50" stroke="#8c8c8c" stroke-width="1.1"/>
<line x1="103.40" y1="624.50" x2="103.40" y2="627.50" stroke="#8c8c8c" stroke-width="1.1"/>
<line x1="126.00" y1="624.50" x2="126.00" y2="627.50" stroke="#8c8c8c" stroke-width="1.1"/>
<line x1="148.60" y1="624.50" x2="148.60" y2="627.50" stroke="#8c8c8c" stroke-width="1.1"/>
<line x1="171.20" y1="624.50" x2="171.20" y2="627.50" stroke="#8c8c8c" stroke-width="1.1"/>
<text x="26.60" y="628.80" font-size="8.8" text-anchor="end" fill="#111" stroke="#111" stroke-width="0.2">0</text>
<text x="26.60" y="616.58" font-size="8.8" text-anchor="end" fill="#111" stroke="#111" stroke-width="0.2">5</text>
<text x="26.60" y="604.36" font-size="8.8" text-anchor="end" fill="#111" stroke="#111" stroke-width="0.2">10</text>
<text x="26.60" y="592.14" font-size="8.8" text-anchor="end" fill="#111" stroke="#111" stroke-width="0.2">15</text>
<text x="26.60" y="579.92" font-size="8.8" text-anchor="end" fill="#111" stroke="#111" stroke-width="0.2">20</text>
<text x="26.60" y="567.70" font-size="8.8" text-anchor="end" fill="#111" stroke="#111" stroke-width="0.2">25</text>
<text transform="translate(50.00,640.90) rotate(-45)" font-size="8.6" text-anchor="end" fill="#111" stroke="#111" stroke-width="0.42">Baseline</text>
<text transform="translate(72.60,640.90) rotate(-45)" font-size="8.6" text-anchor="end" fill="#111" stroke="#111" stroke-width="0.42">T cell harvest</text>
<text transform="translate(95.20,640.90) rotate(-45)" font-size="8.6" text-anchor="end" fill="#111" stroke="#111" stroke-width="0.42">Day 14</text>
<text transform="translate(117.80,640.90) rotate(-45)" font-size="8.6" text-anchor="end" fill="#111" stroke="#111" stroke-width="0.42">Day 60</text>
<text transform="translate(140.40,640.90) rotate(-45)" font-size="8.6" text-anchor="end" fill="#111" stroke="#111" stroke-width="0.42">Day 100</text>
<text transform="translate(163.00,640.90) rotate(-45)" font-size="8.6" text-anchor="end" fill="#111" stroke="#111" stroke-width="0.42">Day 180</text>
<text x="43.15" y="552.15" font-size="15.0" font-weight="bold" textLength="12.75" lengthAdjust="spacingAndGlyphs" fill="#000" stroke="#000" stroke-width="0.35">%</text>
<text x="59.00" y="552.15" font-size="15.0" font-weight="bold" textLength="29.50" lengthAdjust="spacingAndGlyphs" fill="#000" stroke="#000" stroke-width="0.35">CD4</text>
<text x="93.00" y="552.15" font-size="15.0" font-weight="bold" textLength="63.50" lengthAdjust="spacingAndGlyphs" fill="#000" stroke="#000" stroke-width="0.35">Reverted</text>
<text x="159.25" y="552.15" font-size="15.0" font-weight="bold" textLength="66.25" lengthAdjust="spacingAndGlyphs" fill="#000" stroke="#000" stroke-width="0.35">Memory</text>
<text transform="translate(9.12,596.60) rotate(-90)" x="-30.00" font-size="9.4" font-weight="bold" textLength="59.75" lengthAdjust="spacingAndGlyphs" fill="#000" stroke="#000" stroke-width="0.25">Percent of CD3</text>
<polyline points="47.30,601.65 69.90,591.75 92.50,613.01 115.10,613.01 137.70,611.55 160.30,607.15" fill="none" stroke="#000" stroke-width="2.8" stroke-linejoin="round"/>
<polygon points="47.30,597.95 51.00,601.65 47.30,605.35 43.60,601.65" fill="#000"/>
<polygon points="69.90,588.05 73.60,591.75 69.90,595.45 66.20,591.75" fill="#000"/>
<polygon points="92.50,609.31 96.20,613.01 92.50,616.71 88.80,613.01" fill="#000"/>
<polygon points="115.10,609.31 118.80,613.01 115.10,616.71 111.40,613.01" fill="#000"/>
<polygon points="137.70,607.85 141.40,611.55 137.70,615.25 134.00,611.55" fill="#000"/>
<polygon points="160.30,603.45 164.00,607.15 160.30,610.85 156.60,607.15" fill="#000"/>
<polyline points="47.30,577.58 69.90,577.09 92.50,617.17 115.10,612.04 137.70,617.17 160.30,612.52" fill="none" stroke="#858585" stroke-width="2.3" stroke-linejoin="round"/>
<rect x="43.50" y="573.78" width="7.60" height="7.60" fill="#858585"/>
<rect x="66.10" y="573.29" width="7.60" height="7.60" fill="#858585"/>
<rect x="88.70" y="613.37" width="7.60" height="7.60" fill="#858585"/>
<rect x="111.30" y="608.24" width="7.60" height="7.60" fill="#858585"/>
<rect x="133.90" y="613.37" width="7.60" height="7.60" fill="#858585"/>
<rect x="156.50" y="608.72" width="7.60" height="7.60" fill="#858585"/>
<line x1="178.00" y1="617.20" x2="198.50" y2="617.20" stroke="#000" stroke-width="2.5"/>
<polygon points="188.25,614.00 191.05,617.20 188.25,620.40 185.45,617.20" fill="#000"/>
<line x1="178.00" y1="635.10" x2="198.50" y2="635.10" stroke="#858585" stroke-width="2.2"/>
<rect x="185.25" y="632.10" width="6.00" height="6.00" fill="#858585"/>
<text x="199.65" y="621.00" font-size="9.2" textLength="29.25" lengthAdjust="spacingAndGlyphs" fill="#111" stroke="#111" stroke-width="0.42">Primed</text>
<text x="199.65" y="638.90" font-size="9.2" textLength="48.75" lengthAdjust="spacingAndGlyphs" fill="#111" stroke="#111" stroke-width="0.42">Non-primed</text>
<line x1="292.60" y1="624.40" x2="430.20" y2="624.40" stroke="#b0b0b0" stroke-width="1.3"/>
<line x1="292.60" y1="616.50" x2="430.20" y2="616.50" stroke="#b0b0b0" stroke-width="1.3"/>
<line x1="292.60" y1="608.60" x2="430.20" y2="608.60" stroke="#b0b0b0" stroke-width="1.3"/>
<line x1="292.60" y1="600.70" x2="430.20" y2="600.70" stroke="#b0b0b0" stroke-width="1.3"/>
<line x1="292.60" y1="592.80" x2="430.20" y2="592.80" stroke="#b0b0b0" stroke-width="1.3"/>
<line x1="292.60" y1="584.90" x2="430.20" y2="584.90" stroke="#b0b0b0" stroke-width="1.3"/>
<line x1="292.60" y1="577.00" x2="430.20" y2="577.00" stroke="#b0b0b0" stroke-width="1.3"/>
<line x1="292.60" y1="576.50" x2="292.60" y2="632.80" stroke="#8c8c8c" stroke-width="1.1"/>
<line x1="292.10" y1="632.30" x2="430.20" y2="632.30" stroke="#8c8c8c" stroke-width="1.1"/>
<line x1="288.80" y1="632.30" x2="292.60" y2="632.30" stroke="#8c8c8c" stroke-width="1.1"/>
<line x1="288.80" y1="624.40" x2="292.60" y2="624.40" stroke="#8c8c8c" stroke-width="1.1"/>
<line x1="288.80" y1="616.50" x2="292.60" y2="616.50" stroke="#8c8c8c" stroke-width="1.1"/>
<line x1="288.80" y1="608.60" x2="292.60" y2="608.60" stroke="#8c8c8c" stroke-width="1.1"/>
<line x1="288.80" y1="600.70" x2="292.60" y2="600.70" stroke="#8c8c8c" stroke-width="1.1"/>
<line x1="288.80" y1="592.80" x2="292.60" y2="592.80" stroke="#8c8c8c" stroke-width="1.1"/>
<line x1="288.80" y1="584.90" x2="292.60" y2="584.90" stroke="#8c8c8c" stroke-width="1.1"/>
<line x1="288.80" y1="577.00" x2="292.60" y2="577.00" stroke="#8c8c8c" stroke-width="1.1"/>
<line x1="292.60" y1="632.30" x2="292.60" y2="635.30" stroke="#8c8c8c" stroke-width="1.1"/>
<line x1="315.53" y1="632.30" x2="315.53" y2="635.30" stroke="#8c8c8c" stroke-width="1.1"/>
<line x1="338.47" y1="632.30" x2="338.47" y2="635.30" stroke="#8c8c8c" stroke-width="1.1"/>
<line x1="361.40" y1="632.30" x2="361.40" y2="635.30" stroke="#8c8c8c" stroke-width="1.1"/>
<line x1="384.33" y1="632.30" x2="384.33" y2="635.30" stroke="#8c8c8c" stroke-width="1.1"/>
<line x1="407.27" y1="632.30" x2="407.27" y2="635.30" stroke="#8c8c8c" stroke-width="1.1"/>
<line x1="430.20" y1="632.30" x2="430.20" y2="635.30" stroke="#8c8c8c" stroke-width="1.1"/>
<text x="282.40" y="636.60" font-size="8.8" text-anchor="end" fill="#222" stroke="#222" stroke-width="0.1">0</text>
<text x="282.40" y="628.70" font-size="8.8" text-anchor="end" fill="#222" stroke="#222" stroke-width="0.1">0.2</text>
<text x="282.40" y="620.80" font-size="8.8" text-anchor="end" fill="#222" stroke="#222" stroke-width="0.1">0.4</text>
<text x="282.40" y="612.90" font-size="8.8" text-anchor="end" fill="#222" stroke="#222" stroke-width="0.1">0.6</text>
<text x="282.40" y="605.00" font-size="8.8" text-anchor="end" fill="#222" stroke="#222" stroke-width="0.1">0.8</text>
<text x="282.40" y="597.10" font-size="8.8" text-anchor="end" fill="#222" stroke="#222" stroke-width="0.1">1</text>
<text x="282.40" y="589.20" font-size="8.8" text-anchor="end" fill="#222" stroke="#222" stroke-width="0.1">1.2</text>
<text x="282.40" y="581.30" font-size="8.8" text-anchor="end" fill="#222" stroke="#222" stroke-width="0.1">1.4</text>
<text transform="translate(306.67,649.30) rotate(-45)" font-size="8.2" text-anchor="end" fill="#222" stroke="#222" stroke-width="0.15">Baseline</text>
<text transform="translate(329.60,649.30) rotate(-45)" font-size="8.2" text-anchor="end" fill="#222" stroke="#222" stroke-width="0.15">T cell harvest</text>
<text transform="translate(352.53,649.30) rotate(-45)" font-size="8.2" text-anchor="end" fill="#222" stroke="#222" stroke-width="0.15">Day 14</text>
<text transform="translate(375.47,649.30) rotate(-45)" font-size="8.2" text-anchor="end" fill="#222" stroke="#222" stroke-width="0.15">Day 60</text>
<text transform="translate(398.40,649.30) rotate(-45)" font-size="8.2" text-anchor="end" fill="#222" stroke="#222" stroke-width="0.15">Day 100</text>
<text transform="translate(421.33,649.30) rotate(-45)" font-size="8.2" text-anchor="end" fill="#222" stroke="#222" stroke-width="0.15">Day 180</text>
<text x="292.05" y="561.35" font-size="15.0" font-weight="bold" textLength="12.50" lengthAdjust="spacingAndGlyphs" fill="#000" stroke="#000" stroke-width="0.35">%</text>
<text x="308.70" y="561.35" font-size="15.0" font-weight="bold" textLength="29.75" lengthAdjust="spacingAndGlyphs" fill="#000" stroke="#000" stroke-width="0.35">CD8</text>
<text x="342.80" y="561.35" font-size="15.0" font-weight="bold" textLength="66.00" lengthAdjust="spacingAndGlyphs" fill="#000" stroke="#000" stroke-width="0.35">Reverted</text>
<text x="411.30" y="561.35" font-size="15.0" font-weight="bold" textLength="63.75" lengthAdjust="spacingAndGlyphs" fill="#000" stroke="#000" stroke-width="0.35">Memory</text>
<text transform="translate(260.47,610.40) rotate(-90)" x="-30.50" font-size="9.0" font-weight="bold" textLength="60.75" lengthAdjust="spacingAndGlyphs" fill="#000">Percent of CD3</text>
<polyline points="304.47,596.75 327.40,596.75 350.33,592.80 373.27,581.35 396.20,580.95 419.13,588.85" fill="none" stroke="#000" stroke-width="2.4" stroke-linejoin="round"/>
<polygon points="304.47,593.05 308.17,596.75 304.47,600.45 300.77,596.75" fill="#000"/>
<polygon points="327.40,593.05 331.10,596.75 327.40,600.45 323.70,596.75" fill="#000"/>
<polygon points="350.33,589.10 354.03,592.80 350.33,596.50 346.63,592.80" fill="#000"/>
<polygon points="373.27,577.64 376.97,581.35 373.27,585.05 369.57,581.35" fill="#000"/>
<polygon points="396.20,577.25 399.90,580.95 396.20,584.65 392.50,580.95" fill="#000"/>
<polygon points="419.13,585.15 422.83,588.85 419.13,592.55 415.43,588.85" fill="#000"/>
<polyline points="304.47,612.55 327.40,612.55 350.33,609.00 373.27,605.04 396.20,601.10 419.13,609.00" fill="none" stroke="#858585" stroke-width="2.0" stroke-linejoin="round"/>
<rect x="300.67" y="608.75" width="7.60" height="7.60" fill="#858585"/>
<rect x="323.60" y="608.75" width="7.60" height="7.60" fill="#858585"/>
<rect x="346.53" y="605.20" width="7.60" height="7.60" fill="#858585"/>
<rect x="369.47" y="601.25" width="7.60" height="7.60" fill="#858585"/>
<rect x="392.40" y="597.30" width="7.60" height="7.60" fill="#858585"/>
<rect x="415.33" y="605.20" width="7.60" height="7.60" fill="#858585"/>
<line x1="449.00" y1="622.20" x2="469.50" y2="622.20" stroke="#000" stroke-width="2.0"/>
<polygon points="459.25,619.40 461.55,622.20 459.25,625.00 456.95,622.20" fill="#000"/>
<line x1="449.00" y1="639.50" x2="469.50" y2="639.50" stroke="#858585" stroke-width="1.7"/>
<rect x="456.25" y="636.50" width="6.00" height="6.00" fill="#858585"/>
<text x="470.35" y="626.10" font-size="9.2" textLength="29.50" lengthAdjust="spacingAndGlyphs" fill="#222" stroke="#222" stroke-width="0.15">Primed</text>
<text x="470.35" y="643.40" font-size="9.2" textLength="48.75" lengthAdjust="spacingAndGlyphs" fill="#222" stroke="#222" stroke-width="0.15">Non-primed</text>
</svg>
</body></html>
